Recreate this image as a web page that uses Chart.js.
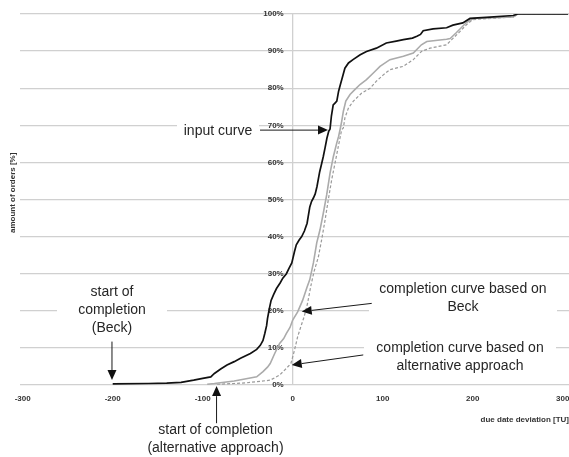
<!DOCTYPE html>
<html><head><meta charset="utf-8">
<script src="https://cdn.jsdelivr.net/npm/chart.js@4.4.1/dist/chart.umd.min.js"></script>
<style>html,body{margin:0;padding:0;background:#fff;overflow:hidden}</style>
</head><body><canvas id="c" width="569" height="457"></canvas>
<script>
const xTicks = [-300, -200, -100, 0, 100, 200, 300];
const yTicks = [0, 10, 20, 30, 40, 50, 60, 70, 80, 90, 100];

// input curve (black)
const inputX = [-200,-160,-140,-124,-110,-100,-91,-87,-80,-73,-65,-58,-47,-40,-36,-33,-31,-29,-28,-26,-24,-21,-18,-14,-11,-7,-4,-1,2,4,7,10,13,16,19,21,23,25,27,30,32,34,36,38,40,41.5,43,45,47,49,51,53,56,58,62,67,75,82,93,104,115,123,133,138,142,145,156,171,178,189,197,215,245,250,306];
const inputY = [0.3,0.4,0.5,0.7,1.3,1.8,2.2,3.1,4.3,5.4,6.3,7.2,8.5,9.6,10.7,12,13.9,16,17.9,20.5,22.8,24.5,26,27.5,28.8,30,31.5,32.9,36,37.8,39,40,41.5,43.6,48,49.5,50.4,51.5,53.5,57.5,59.5,61.6,64,66.5,68.4,69,72.5,75.5,76,76.5,79.2,81,83.6,85.4,86.8,87.7,89,89.9,90.8,92.2,92.7,93.1,93.5,94,94.5,95.5,96,96.3,97,97.6,98.8,99.1,99.6,100,100];

// completion curve based on Beck (grey solid)
const beckX = [-95,-87,-65,-40,-33,-28,-25,-20,-17,-14.5,-10,-7,-3,0,5.5,11,16,19,23,26.7,30.4,34,37.8,41.5,45.2,48.9,51,52.6,54.4,56.3,59,63.7,69,74.8,82,89.6,97,108,123,134,143,149,171,175,182,193,200.5,245,250,306];
const beckY = [0.2,0.4,1.1,2.2,3.6,4.8,5.8,8.5,10,11.2,12.5,13.9,15.5,17.5,19.7,22.8,26.4,28.4,32.9,38.3,41.9,46.3,51.3,57.1,61.6,65.2,67,68.8,71,73.8,76.5,78.3,79.6,81,82.3,84.1,85.9,87.7,88.6,89.5,91.7,92.6,93.2,93.4,95,97.7,98.8,99.2,100,100];

// completion curve based on alternative approach (grey dashed)
const altX = [-84,-65,-51,-25,-14.5,-7,-2,2,5.5,9,12.7,16.4,20,23.6,28.5,32.2,36,39.6,43.3,47,50.7,54.4,56.3,58,62,67.4,76.7,86,93,100.7,108,123,134,143,152.6,171,176.7,186,193,200,245,250,306];
const altY = [0.2,0.4,0.6,1.3,2.7,4.5,5.8,9.4,13,15.7,18.4,21.9,26.5,30.5,34.5,39.2,44.5,50,55.3,59.8,64.3,68.8,69.3,72,74.7,76.5,78.7,80,81.9,83.6,85,85.9,87.7,89.9,90.8,91.7,93.1,95.3,97.1,98.5,99.2,100,100];

// annotation texts, anchored in data units
const noteTexts = [
  ['input curve'],
  ['start of', 'completion', '(Beck)'],
  ['start of completion', '(alternative approach)'],
  ['completion curve based on', 'Beck'],
  ['completion curve based on', 'alternative approach']
];
const noteAnchorX = [-83, -200.8, -85.8, 189.2, 185.9];
const noteAnchorY = [68.3, 25.1, -12.3, 25.9, 10.05];   // value of first line
// arrows: [fromX, fromY, toX, toY] in data units
const arrowFromX = [-36.3, -200.8, -84.6, 87.8, 78.4];
const arrowFromY = [68.7, 11.7, -10.3, 22.0, 8.1];
const arrowToX = [39.2, -200.8, -84.6, 10, -1.1];
const arrowToY = [68.7, 1.35, -0.3, 19.8, 5.4];

const pts = (xs, ys) => xs.map((x, i) => ({x, y: ys[i]}));

const TXT_FONT = '14px "Liberation Sans", Arial, sans-serif';
const LINE_H = 18;
const boxHalfW = [41, 55, 0, 94, 96];
const GRID = '#d0d0d0';

const annot = {
  id: 'annot',
  beforeDatasetsDraw(chart) {
    const {ctx, scales: {x, y}} = chart;
    ctx.save();
    ctx.fillStyle = '#ffffff';
    noteTexts.forEach((lines, i) => {
      if (!boxHalfW[i]) return;
      const cx = x.getPixelForValue(noteAnchorX[i]);
      const cy = y.getPixelForValue(noteAnchorY[i]);
      const top = cy - 11, h = LINE_H * (lines.length - 1) + 22;
      ctx.fillRect(cx - boxHalfW[i], top, boxHalfW[i] * 2, h);
    });
    ctx.restore();
  },
  afterDraw(chart) {
    const {ctx, scales: {x, y}} = chart;
    ctx.save();
    ctx.font = TXT_FONT;
    ctx.fillStyle = '#262626';
    ctx.textAlign = 'center';
    ctx.textBaseline = 'middle';
    noteTexts.forEach((lines, i) => {
      const cx = x.getPixelForValue(noteAnchorX[i]);
      const cy = y.getPixelForValue(noteAnchorY[i]);
      lines.forEach((t, k) => ctx.fillText(t, cx, cy + k * LINE_H));
    });
    ctx.strokeStyle = '#1a1a1a';
    ctx.fillStyle = '#111';
    ctx.lineWidth = 1;
    arrowFromX.forEach((fx, i) => {
      const x1 = x.getPixelForValue(fx), y1 = y.getPixelForValue(arrowFromY[i]);
      const x2 = x.getPixelForValue(arrowToX[i]), y2 = y.getPixelForValue(arrowToY[i]);
      const a = Math.atan2(y2 - y1, x2 - x1);
      const hl = 10, hw = 4.5;
      const bx = x2 - hl * Math.cos(a), by = y2 - hl * Math.sin(a);
      ctx.beginPath(); ctx.moveTo(x1, y1); ctx.lineTo(bx, by); ctx.stroke();
      ctx.beginPath();
      ctx.moveTo(x2, y2);
      ctx.lineTo(bx + hw * Math.sin(a), by - hw * Math.cos(a));
      ctx.lineTo(bx - hw * Math.sin(a), by + hw * Math.cos(a));
      ctx.closePath(); ctx.fill();
    });
    // y axis title
    ctx.font = 'bold 8px "Liberation Sans", Arial, sans-serif';
    ctx.fillStyle = '#333';
    ctx.translate(13, y.getPixelForValue(51.8));
    ctx.rotate(-Math.PI / 2);
    ctx.fillText('amount of orders [%]', 0, 0);
    ctx.restore();
  }
};

const tickFont = {family: '"Liberation Sans", Arial, sans-serif', size: 8, weight: 'bold'};

new Chart(document.getElementById('c'), {
  type: 'line',
  data: {
    datasets: [
      {label: 'completion curve based on alternative approach', data: pts(altX, altY), borderColor: '#9a9a9a', borderWidth: 1.2, borderDash: [3, 2], pointRadius: 0, tension: 0, order: 3},
      {label: 'completion curve based on Beck', data: pts(beckX, beckY), borderColor: '#ababab', borderWidth: 1.6, pointRadius: 0, tension: 0, order: 2},
      {label: 'input curve', data: pts(inputX, inputY), borderColor: '#111111', borderWidth: 1.7, pointRadius: 0, tension: 0, order: 1}
    ]
  },
  options: {
    responsive: false,
    animation: false,
    layout: {padding: {left: 20, right: 0, top: 14, bottom: 0}},
    plugins: {legend: {display: false}, tooltip: {enabled: false}},
    scales: {
      x: {
        type: 'linear', min: -303, max: 307,
        afterBuildTicks: s => { s.ticks = xTicks.map(v => ({value: v})); },
        afterFit: s => { s.height = 72; s.paddingLeft = 0; s.paddingRight = 0; },
        grid: {
          display: true, drawTicks: false, lineWidth: 1.3,
          color: c => (c.tick && c.tick.value === 0) ? GRID : 'rgba(0,0,0,0)'
        },
        border: {display: false},
        ticks: {font: tickFont, color: '#333', padding: 9, maxRotation: 0, autoSkip: false},
        title: {display: true, text: 'due date deviation [TU]', align: 'end', font: tickFont, color: '#333', padding: {top: 0, bottom: 32}}
      },
      y: {
        type: 'linear', position: {x: -10}, min: 0, max: 100,
        afterBuildTicks: s => { s.ticks = yTicks.map(v => ({value: v})); },
        grid: {color: GRID, lineWidth: 1.3, drawTicks: false},
        border: {display: false},
        ticks: {font: tickFont, color: '#333', padding: 0, callback: v => v + '%'}
      }
    }
  },
  plugins: [annot]
});
</script>
</body></html>
